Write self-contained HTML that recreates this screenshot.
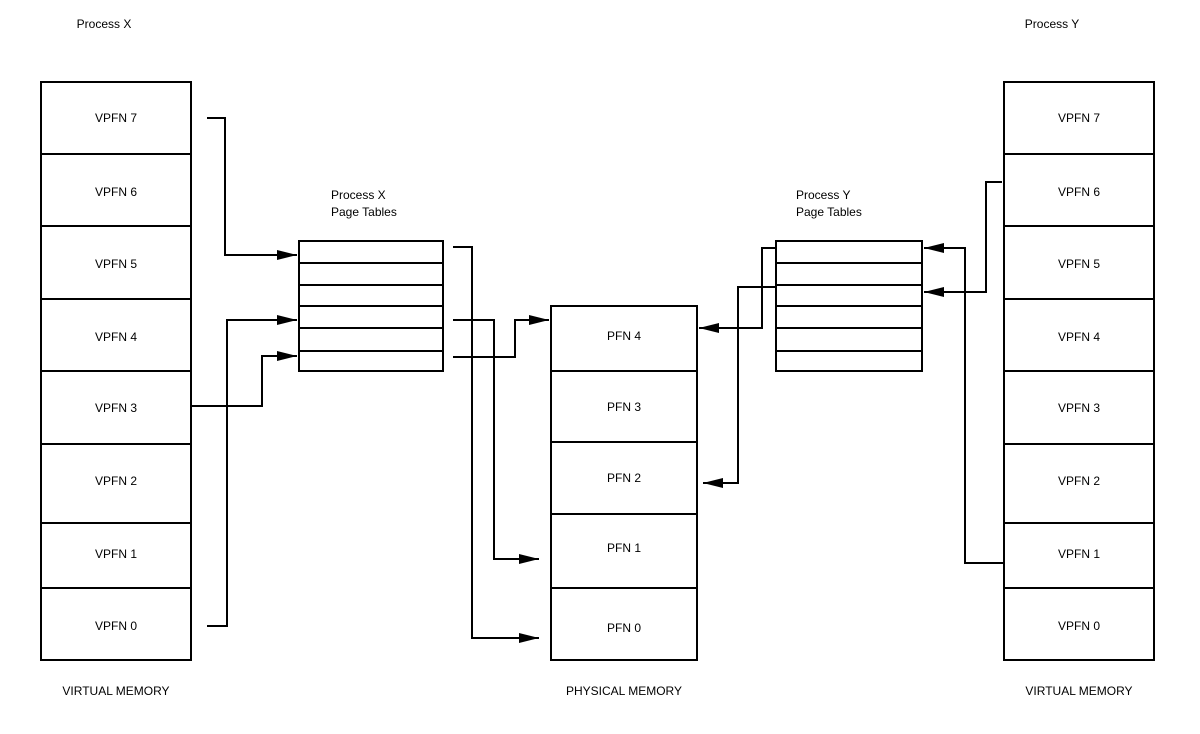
<!DOCTYPE html>
<html><head><style>
html,body{margin:0;padding:0;background:#fff}
svg{display:block}
text{font-family:"Liberation Sans",sans-serif;font-size:12px;fill:#000}
</style></head><body>
<svg width="1200" height="734" viewBox="0 0 1200 734" xmlns="http://www.w3.org/2000/svg">
<defs>
<marker id="a" markerWidth="22" markerHeight="12" refX="20" refY="6" orient="auto" markerUnits="userSpaceOnUse">
<polygon points="0,1 20,6 0,11" fill="#000"/>
</marker>
</defs>
<g fill="none" stroke="#000" stroke-width="2">
<!-- left VM -->
<rect x="41" y="82" width="150" height="578"/>
<path d="M41 154H191M41 226H191M41 299H191M41 371H191M41 444H191M41 523H191M41 588H191"/>
<!-- right VM -->
<rect x="1004" y="82" width="150" height="578"/>
<path d="M1004 154H1154M1004 226H1154M1004 299H1154M1004 371H1154M1004 444H1154M1004 523H1154M1004 588H1154"/>
<!-- PFN -->
<rect x="551" y="306" width="146" height="354"/>
<path d="M551 371H697M551 442H697M551 514H697M551 588H697"/>
<!-- X table -->
<rect x="299" y="241" width="144" height="130"/>
<path d="M299 263H443M299 285H443M299 306H443M299 328H443M299 351H443"/>
<!-- Y table -->
<rect x="776" y="241" width="146" height="130"/>
<path d="M776 263H922M776 285H922M776 306H922M776 328H922M776 351H922"/>
<!-- connectors X side -->
<path d="M207 118H225V255H297" marker-end="url(#a)"/>
<path d="M207 626H227V320H297" marker-end="url(#a)"/>
<path d="M191 406H262V356H297" marker-end="url(#a)"/>
<path d="M453 247H472V638H539" marker-end="url(#a)"/>
<path d="M453 320H494V559H539" marker-end="url(#a)"/>
<path d="M453 357H515V320H549" marker-end="url(#a)"/>
<!-- connectors Y side -->
<path d="M1004 563H965V248H924" marker-end="url(#a)"/>
<path d="M1002 182H986V292H924" marker-end="url(#a)"/>
<path d="M776 248H762V328H699" marker-end="url(#a)"/>
<path d="M776 287H738V483H703" marker-end="url(#a)"/>
</g>
<g text-anchor="middle">
<text x="104" y="28">Process X</text>
<text x="1052" y="28">Process Y</text>
<text x="116" y="122">VPFN 7</text>
<text x="116" y="196">VPFN 6</text>
<text x="116" y="268">VPFN 5</text>
<text x="116" y="341">VPFN 4</text>
<text x="116" y="412">VPFN 3</text>
<text x="116" y="485">VPFN 2</text>
<text x="116" y="558">VPFN 1</text>
<text x="116" y="630">VPFN 0</text>
<text x="1079" y="122">VPFN 7</text>
<text x="1079" y="196">VPFN 6</text>
<text x="1079" y="268">VPFN 5</text>
<text x="1079" y="341">VPFN 4</text>
<text x="1079" y="412">VPFN 3</text>
<text x="1079" y="485">VPFN 2</text>
<text x="1079" y="558">VPFN 1</text>
<text x="1079" y="630">VPFN 0</text>
<text x="624" y="340">PFN 4</text>
<text x="624" y="411">PFN 3</text>
<text x="624" y="482">PFN 2</text>
<text x="624" y="552">PFN 1</text>
<text x="624" y="632">PFN 0</text>
<text x="116" y="695">VIRTUAL MEMORY</text>
<text x="624" y="695">PHYSICAL MEMORY</text>
<text x="1079" y="695">VIRTUAL MEMORY</text>
</g>
<text x="331" y="199">Process X</text>
<text x="331" y="216">Page Tables</text>
<text x="796" y="199">Process Y</text>
<text x="796" y="216">Page Tables</text>
</svg>
</body></html>
